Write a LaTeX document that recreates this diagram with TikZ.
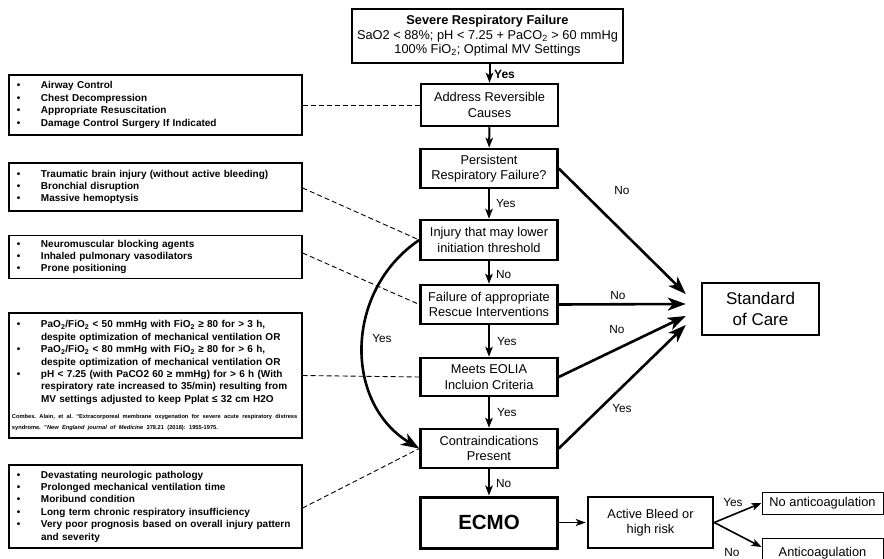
\documentclass[tikz,border=0pt]{standalone}
\usepackage{fontspec}
\setmainfont{Liberation Sans}
\usetikzlibrary{arrows.meta,calc}
\newcommand{\bitem}[1]{\hspace*{5pt}\makebox[24pt][l]{•}#1}
\newcommand{\bcont}[1]{\hspace*{29pt}#1}
\begin{document}
\begin{tikzpicture}[x=1pt,y=-1pt,
  mainbox/.style={draw, line width=2.5pt, minimum width=137pt, align=center,
    font=\fontsize{12.8}{15.5}\selectfont, inner sep=2pt},
  sidebox/.style={draw, line width=1.3pt, text width=287pt, inner xsep=3pt, inner ysep=2pt,
    align=left, font=\fontsize{10}{12.4}\selectfont\bfseries},
  flow/.style={line width=2pt, -{Stealth[length=10pt,width=7.5pt,inset=2.5pt]}},
  bigflow/.style={line width=2.6pt, -{Stealth[length=18pt,width=13pt,inset=5pt]}},
  dashlink/.style={line width=0.9pt, dash pattern=on 5pt off 3pt},
  lbl/.style={font=\fontsize{11.8}{14}\selectfont, inner sep=0pt},
]
\fill[white] (0,0) rectangle (884,559);
\useasboundingbox (0,0) rectangle (884,559);

% main column
\node[mainbox, minimum width=271pt, minimum height=54pt, font=\fontsize{12.8}{14.5}\selectfont] (top) at (487.5,36)
  {\textbf{Severe Respiratory Failure}\\SaO2 < 88\%; pH < 7.25 + PaCO\textsubscript{2} > 60 mmHg\\100\% FiO\textsubscript{2}; Optimal MV Settings};
\node[mainbox, minimum height=42pt] (addr) at (489.5,105) {Address Reversible\\Causes};
\node[mainbox, minimum height=39pt] (pers) at (489,168.5) {Persistent\\Respiratory Failure?};
\node[mainbox, minimum height=40pt] (inj) at (489,240) {Injury that may lower\\initiation threshold};
\node[mainbox, minimum height=39pt] (fail) at (489,304.5) {Failure of appropriate\\Rescue Interventions};
\node[mainbox, minimum height=38pt] (meets) at (489,377) {Meets EOLIA\\Incluion Criteria};
\node[mainbox, minimum height=39pt] (contra) at (489,448.5) {Contraindications\\Present};
\node[mainbox, line width=3pt, minimum height=51pt, font=\fontsize{20.5}{24}\selectfont\bfseries] (ecmo) at (489,522.5) {ECMO};
\node[mainbox, minimum width=125pt, minimum height=51pt] (bleed) at (650.5,522.5) {Active Bleed or\\high risk};
\node[mainbox, line width=1pt, minimum width=121pt, minimum height=22pt] (noac) at (822.5,503) {No anticoagulation};
\node[mainbox, line width=1pt, minimum width=121pt, minimum height=30pt] (ac) at (822.5,553) {Anticoagulation};
\node[mainbox, minimum width=117pt, minimum height=52pt, font=\fontsize{17}{20.5}\selectfont] (soc) at (760.5,309) {Standard\\of Care};

% side boxes
\node[sidebox, minimum height=60pt] (L1) at (155.5,105)
  {\bitem{Airway Control}\\\bitem{Chest Decompression}\\\bitem{Appropriate Resuscitation}\\\bitem{Damage Control Surgery If Indicated}};
\node[sidebox, minimum height=48pt] (L2) at (155.5,187)
  {\bitem{Traumatic brain injury (without active bleeding)}\\\bitem{Bronchial disruption}\\\bitem{Massive hemoptysis}};
\node[sidebox, minimum height=43pt] (L3) at (155.5,257)
  {\bitem{Neuromuscular blocking agents}\\\bitem{Inhaled pulmonary vasodilators}\\\bitem{Prone positioning}};
\node[sidebox, minimum height=125pt] (L4) at (155.5,375.5)
  {\bitem{PaO\textsubscript{2}/FiO\textsubscript{2} < 50 mmHg with FiO\textsubscript{2} ≥ 80 for > 3 h,}\\
   \bcont{despite optimization of mechanical ventilation OR}\\
   \bitem{PaO\textsubscript{2}/FiO\textsubscript{2} < 80 mmHg with FiO\textsubscript{2} ≥ 80 for > 6 h,}\\
   \bcont{despite optimization of mechanical ventilation OR}\\
   \bitem{pH < 7.25 (with PaCO2 60 ≥ mmHg) for > 6 h (With}\\
   \bcont{respiratory rate increased to 35/min) resulting from}\\
   \bcont{MV settings adjusted to keep Pplat ≤ 32 cm H2O}\\[9pt]
   \parbox{287pt}{\frenchspacing\fontsize{5.7}{10.8}\selectfont\bfseries
     \makebox[287pt][s]{Combes. Alain, et al. “Extracorporeal membrane oxygenation for severe acute respiratory distress}\\
     syndrome. ”\textit{New England journal of Medicine} 378.21 (2018): 1955-1975.}};
\node[sidebox, minimum height=83pt] (L5) at (155.5,506.5)
  {\bitem{Devastating neurologic pathology}\\\bitem{Prolonged mechanical ventilation time}\\\bitem{Moribund condition}\\
   \bitem{Long term chronic respiratory insufficiency}\\\bitem{Very poor prognosis based on overall injury pattern}\\\bcont{and severity}};

% dashed links
\draw[dashlink] (L1.east) -- (addr.west);
\draw[dashlink] ([yshift=-1pt]L2.east) -- (inj.west);
\draw[dashlink] ([yshift=4pt]L3.east) -- (fail.west);
\draw[dashlink] (L4.east) -- (meets.west);
\draw[dashlink] ([yshift=-1.5pt]L5.east) -- (contra.west);

% main flow
\draw[flow] (addr.north |- top.south) -- (addr.north);
\node[lbl, font=\fontsize{12}{14}\selectfont\bfseries, anchor=west] (y0) at (494,74) {Yes};
\draw[flow] (addr) -- (pers);
\draw[flow] (pers) -- (inj);
\node[lbl, anchor=west] (y1) at (496,203) {Yes};
\draw[flow] (inj) -- (fail);
\node[lbl, anchor=west] (n1) at (496,274) {No};
\draw[flow] (fail) -- (meets);
\node[lbl, anchor=west] (y2) at (497,341) {Yes};
\draw[flow] (meets) -- (contra);
\node[lbl, anchor=west] (y3) at (497,412) {Yes};
\draw[flow] (contra) -- (ecmo);
\node[lbl, anchor=west] (n2) at (496,483) {No};

% to standard of care
\coordinate (s1) at ($(soc.west)+(-15,-15)$);
\coordinate (s2) at ($(soc.west)+(-15,-5)$);
\coordinate (s3) at ($(soc.west)+(-15,7)$);
\coordinate (s4) at ($(soc.west)+(-15,16)$);
\draw[bigflow] (pers.east) -- (s1);
\draw[bigflow] (fail.east) -- (s2);
\draw[bigflow] (meets.east) -- (s3);
\draw[bigflow] (contra.east) -- (s4);
\node[lbl] (n3) at (622,190) {No};
\node[lbl] (n4) at (618,295) {No};
\node[lbl] (n5) at (617,329) {No};
\node[lbl] (y4) at (622,408) {Yes};

% curved yes
\draw[bigflow] (inj.west) .. controls (344,291) and (344,403) .. (contra.west);
\node[lbl] (y5) at (382,338) {Yes};

% ECMO branch
\draw[line width=1.2pt, -{Stealth[length=10pt,width=7pt,inset=2.5pt]}, shorten >=1pt] (ecmo) -- (bleed);
\draw[line width=1.6pt, -{Stealth[length=10pt,width=7.5pt,inset=2.5pt]}] (bleed.east) -- (noac.west);
\draw[line width=1.6pt, -{Stealth[length=10pt,width=7.5pt,inset=2.5pt]}] (bleed.east) -- ([yshift=6pt]ac.west);
\node[lbl] (y6) at (733,502) {Yes};
\node[lbl] (n6) at (732,552) {No};
\end{tikzpicture}
\end{document}
